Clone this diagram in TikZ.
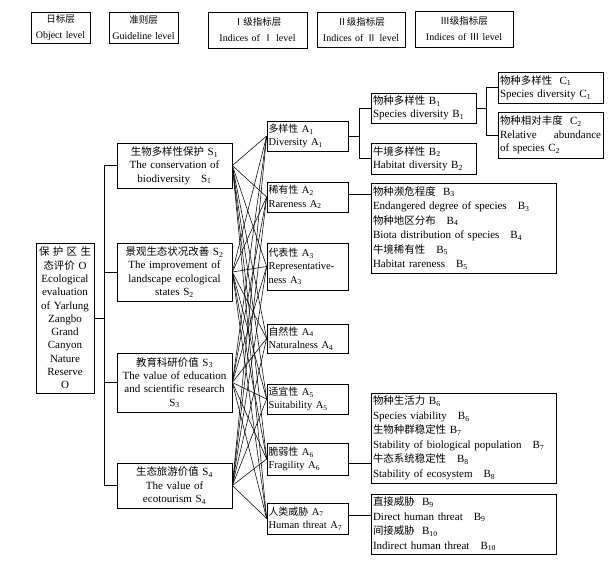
\documentclass[tikz,border=0pt]{standalone}
\usepackage{fontspec}
\setmainfont{Liberation Serif}
\newfontfamily\cjkfont[Scale=0.95]{Noto Sans CJK SC}
\newcommand{\zhtext}[1]{{\cjkfont #1}}
\newcommand{\ssub}[1]{\textsubscript{#1}}
\begin{document}
\begin{tikzpicture}[x=1pt,y=-1pt,
  box/.style={draw, line width=0.7pt, inner xsep=2pt, inner ysep=1pt,
    font=\fontsize{11}{13.3}\selectfont},
  cbox/.style={box, align=center},
  lbox/.style={box, align=left},
  abox/.style={lbox, inner xsep=1.5pt, text width=78pt, font=\fontsize{10.5}{13.3}\selectfont},
  hbox/.style={cbox, font=\fontsize{10}{16}\selectfont},
  wbox/.style={lbox, font=\fontsize{11}{14.5}\selectfont},
  link/.style={line width=0.55pt}]
\useasboundingbox (0,0) rectangle (613,568);
% headers
\node[hbox, text width=55pt, minimum height=31pt] (H0) at (60.5,27.5) {\zhtext{日标层}\\Object level};
\node[hbox, text width=65pt, minimum height=31pt] (H1) at (143.5,27.5) {\zhtext{准则层}\\Guideline level};
\node[hbox, text width=95pt, minimum height=36pt] (H2) at (257.5,30) {\zhtext{Ⅰ级指标层}\\Indices of \zhtext{Ⅰ} level};
\node[hbox, text width=84pt, minimum height=35pt] (H3) at (361,29.5) {\zhtext{Ⅱ级指标层}\\Indices of \zhtext{Ⅱ} level};
\node[hbox, text width=94pt, minimum height=36pt] (H4) at (464,29) {\zhtext{Ⅲ级指标层}\\Indices of \zhtext{Ⅲ} level};
% object
\node[cbox, text width=54pt, minimum height=150pt] (O) at (65,318)
  {\makebox[52pt][s]{\zhtext{保\hfill 护\hfill 区\hfill 生}}\\\zhtext{态评价} O\\Ecological\\evaluation\\of Yarlung\\Zangbo\\Grand\\Canyon\\Nature\\Reserve\\O};
% guideline
\node[cbox, text width=111pt, minimum height=45pt] (S1) at (174.5,165.5) {\zhtext{生物多样性保护}\ S\ssub{1}\\The conservation of\\biodiversity\quad S\ssub{1}};
\node[cbox, text width=111pt, minimum height=58pt] (S2) at (174.5,272) {\zhtext{景观生态状况改善}\ S\ssub{2}\\The improvement of\\landscape ecological\\states S\ssub{2}};
\node[cbox, text width=111pt, minimum height=59pt] (S3) at (174.5,382.5) {\zhtext{教育科研价值}\ S\ssub{3}\\The value of education\\and scientific research\\S\ssub{3}};
\node[cbox, text width=111pt, minimum height=45pt] (S4) at (174.5,485.5) {\zhtext{生态旅游价值}\ S\ssub{4}\\The value of\\ecotourism S\ssub{4}};
% level I
\node[abox, minimum height=30pt] (A1) at (307.5,136) {\zhtext{多样性}\ A\ssub{1}\\Diversity A\ssub{1}};
\node[abox, minimum height=30pt] (A2) at (307.5,197) {\zhtext{稀有性}\ A\ssub{2}\\Rareness A\ssub{2}};
\node[abox, minimum height=47pt] (A3) at (307.5,266.5) {\zhtext{代表性}\ A\ssub{3}\\Representative-\\ness A\ssub{3}};
\node[abox, minimum height=29pt] (A4) at (307.5,338.5) {\zhtext{自然性}\ A\ssub{4}\\Naturalness A\ssub{4}};
\node[abox, minimum height=30pt] (A5) at (307.5,399) {\zhtext{适宜性}\ A\ssub{5}\\Suitability A\ssub{5}};
\node[abox, minimum height=32pt] (A6) at (307.5,459) {\zhtext{脆弱性}\ A\ssub{6}\\Fragility A\ssub{6}};
\node[abox, minimum height=31pt] (A7) at (307.5,518.5) {\zhtext{人类威胁}\ A\ssub{7}\\Human threat A\ssub{7}};
% level II
\node[lbox, text width=101pt, minimum height=30pt] (B1) at (423.5,108) {\zhtext{物种多样性}\ B\ssub{1}\\Species diversity B\ssub{1}};
\node[lbox, text width=101pt, minimum height=31pt] (B2) at (423.5,158.5) {\zhtext{牛境多样性}\ B\ssub{2}\\Habitat diversity B\ssub{2}};
\node[wbox, text width=181pt, minimum height=90pt] (B35) at (463.5,228)
  {\zhtext{物种濒危程度}\ \ B\ssub{3}\\Endangered degree of species\quad B\ssub{3}\\\zhtext{物种地区分布}\quad B\ssub{4}\\Biota distribution of species\quad B\ssub{4}\\\zhtext{牛境稀有性}\quad B\ssub{5}\\Habitat rareness\quad B\ssub{5}};
\node[wbox, text width=181pt, minimum height=90pt] (B68) at (463.5,438)
  {\zhtext{物种生活力}\ B\ssub{6}\\Species viability\quad B\ssub{6}\\\zhtext{生物种群稳定性}\ B\ssub{7}\\Stability of biological population\quad B\ssub{7}\\\zhtext{牛态系统稳定性}\quad B\ssub{8}\\Stability of ecosystem\quad B\ssub{8}};
\node[wbox, text width=181pt, minimum height=60pt] (B910) at (463.5,524)
  {\zhtext{直接威胁}\ \ B\ssub{9}\\Direct human threat\quad B\ssub{9}\\\zhtext{间接威胁}\ \ B\ssub{10}\\Indirect human threat\quad B\ssub{10}};
% level III
\node[lbox, text width=101pt, minimum height=31pt] (C1) at (550.5,87.5) {\zhtext{物种多样性}\ \ C\ssub{1}\\Species diversity C\ssub{1}};
\node[lbox, text width=101pt, minimum height=46pt] (C2) at (550.5,135) {\zhtext{物种相对丰度}\ \ C\ssub{2}\\\makebox[101pt][s]{Relative\hfill abundance}\\of species C\ssub{2}};
% trunk
\draw[link] (O.east) -- ++(11,0);
\draw[link] (S1.west) -- ++(-12,0) |- (S4.west);
\draw[link] (S2.west) -- ++(-12,0);
\draw[link] (S3.west) -- ++(-12,0);
% crossing
\foreach \s in {1,...,4}{\foreach \a in {1,...,7}{\draw[link] (S\s.east) -- (A\a.west);}}
% brackets
\draw[link] (A1.east) -- ++(12,0);
\draw[link] (B1.west) -- ++(-11,0) |- (B2.west);
\draw[link] (B1.east) -- ++(11,0);
\draw[link] (C1.west) -- ++(-11,0) |- (C2.west);
\draw[link] ([yshift=3pt]A2.east) -- ([yshift=3pt]A2.east -| B35.west);
\draw[link] ([yshift=-4pt]A6.east) -- ([yshift=-4pt]A6.east -| B68.west);
\draw[link] ([yshift=3pt]A7.east) -- ([yshift=3pt]A7.east -| B910.west);
\end{tikzpicture}
\end{document}
